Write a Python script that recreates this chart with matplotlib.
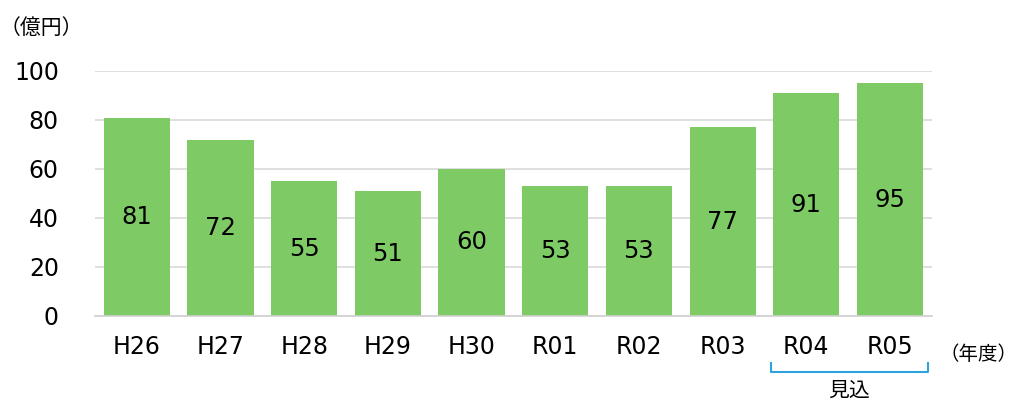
import matplotlib
matplotlib.use("Agg")
import matplotlib.pyplot as plt
from matplotlib.lines import Line2D

plt.rcParams["font.family"] = ["DejaVu Sans", "Noto Sans CJK JP"]

years = ["H26", "H27", "H28", "H29", "H30", "R01", "R02", "R03", "R04", "R05"]
values = [81, 72, 55, 51, 60, 53, 53, 77, 91, 95]
estimate_years = ["R04", "R05"]

fig = plt.figure(figsize=(10.18, 4.01), dpi=100)
ax = fig.add_axes([0.0933, 0.212, 0.822, 0.611])

xs = range(len(years))
bars = ax.bar(xs, values, width=0.79, color="#7ECB66", zorder=2)
for b, v in zip(bars, values):
    ax.text(b.get_x() + b.get_width() / 2, v / 2, str(v), ha="center", va="center",
            fontsize=17.5, color="black", zorder=3)

ax.set_xlim(-0.5, len(years) - 0.5)
ax.set_ylim(0, 100)
ax.set_yticks(range(0, 101, 20))
ax.yaxis.grid(True, color="#d9d9d9", lw=1.2, zorder=0)
ax.set_axisbelow(True)
for s in ("top", "right", "left"):
    ax.spines[s].set_visible(False)
ax.spines["bottom"].set_color("#d0d0d0")
ax.spines["bottom"].set_linewidth(1.2)
ax.tick_params(length=0, labelsize=17, colors="black")
ax.tick_params(axis="y", pad=26)
ax.tick_params(axis="x", pad=14)
ax.set_xticks(list(xs))
ax.set_xticklabels(years)

fig.text(0.0, 0.93, "（億円）", fontsize=15, ha="left", va="center",
         family=["Noto Sans CJK JP"])
fig.text(0.923, 0.117, "（年度）", fontsize=14, ha="left", va="center",
         family=["Noto Sans CJK JP"])

# bracket under the estimated years
i0 = years.index(estimate_years[0])
i1 = years.index(estimate_years[-1])
trans = ax.get_xaxis_transform()
x0, x1 = i0 - 0.42, i1 + 0.45
yb, yt = -0.23, -0.19
ax.add_line(Line2D([x0, x0, x1, x1], [yt, yb, yb, yt], transform=trans,
                   color="#2FA4DC", lw=1.5, clip_on=False))
ax.text((x0 + x1) / 2, -0.305, "見込", transform=trans, ha="center", va="center",
        fontsize=15, family=["Noto Sans CJK JP"], clip_on=False)

fig.savefig("out.png", dpi=100)
